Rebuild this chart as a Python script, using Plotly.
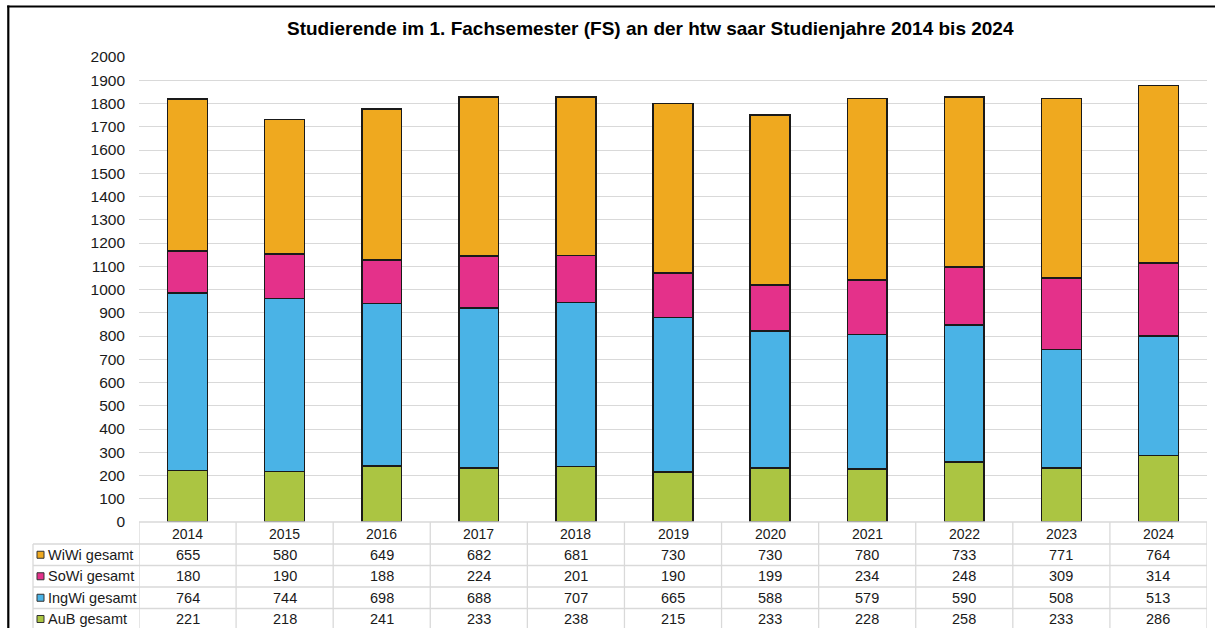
import plotly.graph_objects as go

# ---------------- data ----------------
years = ["2014", "2015", "2016", "2017", "2018", "2019", "2020", "2021", "2022", "2023", "2024"]
wiwi = [655, 580, 649, 682, 681, 730, 730, 780, 733, 771, 764]
sowi = [180, 190, 188, 224, 201, 190, 199, 234, 248, 309, 314]
ingwi = [764, 744, 698, 688, 707, 665, 588, 579, 590, 508, 513]
aub = [221, 218, 241, 233, 238, 215, 233, 228, 258, 233, 286]
series_names = ["WiWi gesamt", "SoWi gesamt", "IngWi gesamt", "AuB gesamt"]
title_text = "Studierende im 1. Fachsemester (FS) an der htw saar Studienjahre 2014 bis 2024"

# ---------------- styles ----------------
colors = {"WiWi gesamt": "#EFA91F", "SoWi gesamt": "#E4318A",
          "IngWi gesamt": "#4AB3E6", "AuB gesamt": "#ABC542"}
values = {"WiWi gesamt": wiwi, "SoWi gesamt": sowi,
          "IngWi gesamt": ingwi, "AuB gesamt": aub}

W, H = 1215, 628
PL, PR, PT, PB = 139, 1207, 57, 522   # plot area in pixels
FONT = "Liberation Sans, Arial, sans-serif"
GRID = "#d9d9d9"


def xp(px):
    return (px - PL) / (PR - PL)


def yp(py):
    return (PB - py) / (PB - PT)


fig = go.Figure()
for name in ["AuB gesamt", "IngWi gesamt", "SoWi gesamt", "WiWi gesamt"]:
    fig.add_trace(go.Bar(
        x=years, y=values[name], name=name, width=0.41,
        marker=dict(color=colors[name], line=dict(color="#1a1a1a", width=1.5)),
        showlegend=False, hoverinfo="skip",
    ))

shapes = []
annotations = []

# outer frame (top and left edges; the rest lies outside the picture)
shapes.append(dict(type="line", xref="paper", yref="paper",
                   x0=xp(7.2), x1=xp(1215), y0=yp(6.5), y1=yp(6.5),
                   line=dict(color="black", width=2.2), layer="above"))
shapes.append(dict(type="line", xref="paper", yref="paper",
                   x0=xp(8.3), x1=xp(8.3), y0=yp(5.4), y1=yp(628),
                   line=dict(color="black", width=2.2), layer="above"))

# title
annotations.append(dict(text=title_text, xref="paper", yref="paper",
                        x=xp(650), y=yp(28), xanchor="center", yanchor="middle",
                        showarrow=False,
                        font=dict(family=FONT, size=19, color="black", weight="bold")))

# data table
row_edges = [522, 544, 565.5, 587, 608.5, 632]
n = len(years)
shapes.append(dict(type="line", xref="paper", yref="paper", x0=0, x1=1,
                   y0=yp(row_edges[0]), y1=yp(row_edges[0]),
                   line=dict(color=GRID, width=1.3)))
for e in row_edges[1:]:
    shapes.append(dict(type="line", xref="paper", yref="paper", x0=xp(33), x1=1,
                       y0=yp(e), y1=yp(e), line=dict(color=GRID, width=1.3)))
for i in range(n + 1):
    shapes.append(dict(type="line", xref="x", yref="paper", x0=i - 0.5, x1=i - 0.5,
                       y0=yp(row_edges[0]), y1=yp(row_edges[-1]),
                       line=dict(color=GRID, width=1.3)))
shapes.append(dict(type="line", xref="paper", yref="paper", x0=xp(33), x1=xp(33),
                   y0=yp(row_edges[1]), y1=yp(row_edges[-1]),
                   line=dict(color=GRID, width=1.3)))

centers = [(row_edges[k] + row_edges[k + 1]) / 2 for k in range(len(row_edges) - 1)]
centers[0] = 533.5
centers[-1] = 619
for i, yr in enumerate(years):
    annotations.append(dict(text=yr, xref="x", yref="paper", x=i, y=yp(centers[0]),
                            xanchor="center", yanchor="middle", showarrow=False,
                            font=dict(family=FONT, size=14, color="#1a1a1a")))
for r, name in enumerate(series_names):
    cy = centers[r + 1]
    shapes.append(dict(type="rect", xref="paper", yref="paper",
                       x0=xp(37), x1=xp(44), y0=yp(cy + 3.5), y1=yp(cy - 3.5),
                       fillcolor=colors[name], line=dict(color="#333333", width=1)))
    annotations.append(dict(text=name, xref="paper", yref="paper", x=xp(46), y=yp(cy),
                            xanchor="left", yanchor="middle", showarrow=False,
                            font=dict(family=FONT, size=14.5, color="#1a1a1a")))
    for i, v in enumerate(values[name]):
        annotations.append(dict(text=str(v), xref="x", yref="paper", x=i, y=yp(cy),
                                xanchor="center", yanchor="middle", showarrow=False,
                                font=dict(family=FONT, size=14.5, color="#1a1a1a")))

fig.update_layout(
    width=W, height=H,
    margin=dict(l=PL, r=W - PR, t=PT, b=H - PB, pad=0),
    barmode="stack",
    paper_bgcolor="white", plot_bgcolor="white",
    font=dict(family=FONT, size=15, color="#1a1a1a"),
    hovermode=False,
    xaxis=dict(type="category", range=[-0.5, n - 0.5], showticklabels=False,
               showgrid=False, showline=False, zeroline=False, ticks=""),
    yaxis=dict(range=[0, 2000], dtick=100, tick0=0, showgrid=True, gridcolor=GRID,
               gridwidth=1.3, zeroline=False, showline=False, ticks="",
               ticklabelstandoff=13,
               tickfont=dict(family=FONT, size=15.5, color="#1a1a1a")),
    shapes=shapes,
    annotations=annotations,
)

fig.write_html("out.html", config={"displayModeBar": False},
               post_script="document.body.style.margin='0px';document.body.style.overflow='hidden';")
